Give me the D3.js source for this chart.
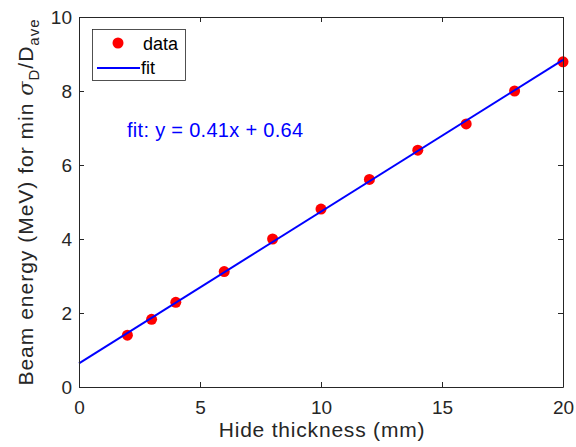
<!DOCTYPE html>
<html>
<head>
<meta charset="utf-8">
<script src="https://cdn.jsdelivr.net/npm/d3@7"></script>
<style>
  body { margin: 0; background: #fff; }
  svg { font-family: "Liberation Sans", Arial, sans-serif; }
</style>
</head>
<body>
<div id="chart"></div>
<script>
const thickness = [2, 3, 4, 6, 8, 10, 12, 14, 16, 18, 20];
const energy = [1.4, 1.83, 2.29, 3.12, 4.0, 4.81, 5.61, 6.4, 7.11, 8.0, 8.79];
const fitSlope = 0.41;
const fitIntercept = 0.64;
const xTicks = [0, 5, 10, 15, 20];
const yTicks = [0, 2, 4, 6, 8, 10];

const width = 576, height = 447;
const margin = { left: 79, right: 13, top: 17, bottom: 60 };
const axisColor = '#262626';

const svg = d3.select('#chart').append('svg')
  .attr('width', width)
  .attr('height', height);

const x = d3.scaleLinear().domain([0, 20]).range([margin.left, width - margin.right]);
const y = d3.scaleLinear().domain([0, 10]).range([height - margin.bottom, margin.top]);

// data points
svg.selectAll('circle.pt')
  .data(thickness)
  .enter().append('circle')
  .attr('class', 'pt')
  .attr('cx', d => x(d))
  .attr('cy', (d, i) => y(energy[i]))
  .attr('r', 5.5)
  .attr('fill', '#ff0000');

// fit line, on top of the points
const fitLine = d3.line().x(d => x(d)).y(d => y(fitSlope * d + fitIntercept));
svg.append('path')
  .datum([0, 20])
  .attr('d', fitLine)
  .attr('fill', 'none')
  .attr('stroke', '#0000ff')
  .attr('stroke-width', 2);

// axes
const gBottom = svg.append('g')
  .attr('transform', `translate(0,${y(0)})`)
  .call(d3.axisBottom(x).tickValues(xTicks).tickSizeInner(-5).tickSizeOuter(0).tickPadding(14));
const gTop = svg.append('g')
  .attr('transform', `translate(0,${y(10)})`)
  .call(d3.axisTop(x).tickValues(xTicks).tickSizeInner(-5).tickSizeOuter(0).tickFormat(''));
const gLeft = svg.append('g')
  .attr('transform', `translate(${x(0)},0)`)
  .call(d3.axisLeft(y).tickValues(yTicks).tickSizeInner(-5).tickSizeOuter(0).tickPadding(7));
const gRight = svg.append('g')
  .attr('transform', `translate(${x(20)},0)`)
  .call(d3.axisRight(y).tickValues(yTicks).tickSizeInner(-5).tickSizeOuter(0).tickFormat(''));

[gBottom, gTop, gLeft, gRight].forEach(g => {
  g.select('.domain').attr('stroke', axisColor).attr('stroke-width', 1);
  g.selectAll('.tick line').attr('stroke', axisColor);
  g.selectAll('.tick text').attr('fill', axisColor).style('font-size', '19px');
});

// axis labels
svg.append('text')
  .attr('x', 322)
  .attr('y', 437)
  .attr('text-anchor', 'middle')
  .attr('fill', axisColor)
  .style('font-size', '21px')
  .style('letter-spacing', '0.8px')
  .text('Hide thickness (mm)');

const yl = svg.append('text')
  .attr('transform', `translate(33,${(y(0) + y(10)) / 2}) rotate(-90)`)
  .attr('text-anchor', 'middle')
  .attr('fill', axisColor)
  .style('font-size', '21px')
  .style('letter-spacing', '1px');
yl.append('tspan').text('Beam energy (MeV) for min ');
yl.append('tspan').style('font-family', '"DejaVu Serif", serif').style('font-style', 'italic').text('σ');
yl.append('tspan').attr('dy', 6).style('font-size', '15px').text('D');
yl.append('tspan').attr('dy', -6).text('/D');
yl.append('tspan').attr('dy', 6).style('font-size', '15px').text('ave');

// annotation
svg.append('text')
  .attr('x', 127)
  .attr('y', 137)
  .attr('fill', '#0000ff')
  .style('font-size', '20px')
  .style('letter-spacing', '0.3px')
  .text(`fit: y = ${fitSlope}x + ${fitIntercept}`);

// legend
const lg = svg.append('g');
lg.append('rect')
  .attr('x', 92.5).attr('y', 29.5)
  .attr('width', 93).attr('height', 51)
  .attr('fill', '#fff')
  .attr('stroke', axisColor)
  .attr('stroke-width', 0.8);
lg.append('circle').attr('cx', 118).attr('cy', 43).attr('r', 5.5).attr('fill', '#ff0000');
lg.append('text').attr('x', 143).attr('y', 50).attr('fill', '#000').style('font-size', '18px').text('data');
lg.append('line').attr('x1', 97).attr('x2', 140).attr('y1', 68).attr('y2', 68)
  .attr('stroke', '#0000ff').attr('stroke-width', 2);
lg.append('text').attr('x', 141).attr('y', 74).attr('fill', '#000').style('font-size', '18px').text('fit');
</script>
</body>
</html>
